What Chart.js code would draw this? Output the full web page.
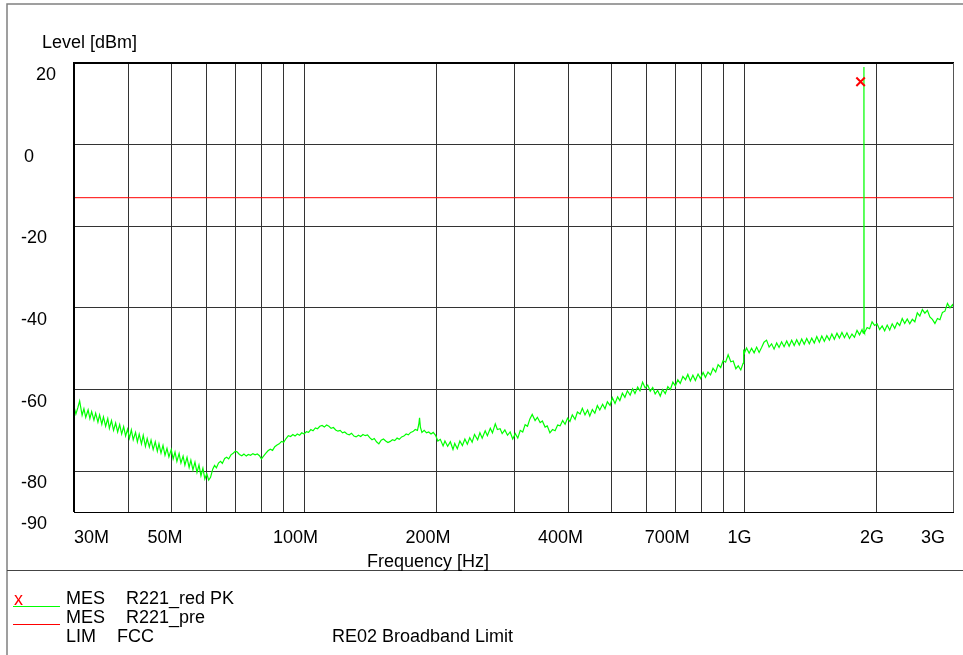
<!DOCTYPE html>
<html>
<head>
<meta charset="utf-8">
<style>
  html, body { margin: 0; padding: 0; background: #ffffff; }
  #wrap { width: 963px; height: 655px; position: relative; }
</style>
<script src="https://cdn.jsdelivr.net/npm/chart.js@4.4.1/dist/chart.umd.min.js"></script>
</head>
<body>
<div id="wrap"><canvas id="c" width="963" height="655"></canvas></div>
<script>
// ---------- data (frequencies in MHz, levels in dBm) ----------
const traceFreqMHz = [
  30, 30.3, 30.6, 30.9, 31.3, 31.6, 31.9, 32.3, 32.6, 32.9,
  33.3, 33.6, 34, 34.3, 34.7, 35, 35.4, 35.8, 36.1, 36.5,
  36.9, 37.3, 37.7, 38.1, 38.5, 38.9, 39.3, 39.7, 40.1, 40.5,
  40.9, 41.4, 41.8, 42.2, 42.7, 43.1, 43.6, 44, 44.5, 44.9,
  45.4, 45.9, 46.4, 46.8, 47.3, 47.8, 48.3, 48.8, 49.3, 49.9,
  50.4, 50.9, 51.4, 52, 52.5, 53.1, 53.6, 54.2, 54.8, 55.3,
  55.9, 56.5, 57.1, 57.7, 58.3, 58.9, 59.5, 60.1, 60.7,
  61.3, 62, 62.6, 63.2, 63.9, 64.6, 65.2, 66, 66.7, 67.4,
  68.2, 69, 69.8, 70.5, 71.3, 72.2, 73, 73.9, 74.7, 75.6,
  76.5, 77.4, 78.3, 79.2, 80, 80.9, 81.9, 82.8, 83.8, 84.8,
  85.8, 86.8, 87.8, 88.9, 89.9, 91, 92.1, 93.2, 94.3, 95.4,
  96.5, 97.7, 98.8, 100, 101.2, 102.4, 103.6, 104.8, 106.1, 107.3,
  108.6, 109.9, 111.2, 112.5, 113.9, 115.2, 116.6, 118, 119.4, 120.8,
  122.3, 123.7, 125.2, 126.7, 128.2, 129.8, 131.3, 132.9, 134.5, 136.1,
  137.7, 139.4, 141, 142.7, 144.4, 146.1, 147.9, 149.7, 151.5, 153.3,
  155.1, 157, 158.8, 160.7, 162.7, 164.6, 166.6, 168.6, 170.6, 172.6,
  174.7, 176.8, 178.9, 181, 182.3, 183, 183.8, 185.3, 187.5, 189.8,
  192, 194.3, 196.6, 199, 201.4,
  204, 207, 209, 212, 215, 218, 220, 223, 226, 229,
  232, 235, 238, 241, 244, 248, 251, 254, 258, 261,
  265, 268, 272, 275, 279, 282, 286, 290, 294, 298,
  302, 306, 310, 314, 318, 322, 326, 330, 335, 339,
  344, 348, 353, 357, 362, 367, 372, 377, 382, 387,
  392, 397, 402, 407, 413, 418, 424, 429, 435, 441,
  446, 452, 458, 464, 470, 477, 483, 489, 496, 502,
  509, 516, 522, 529, 536, 543, 551, 558, 565, 573,
  580, 588, 596, 604, 612, 620, 628, 636, 645, 653,
  662, 671, 680, 689, 698, 707, 716, 726, 736, 745,
  755, 765, 775, 786, 796, 807, 817, 828, 839, 850,
  862, 873, 885, 896, 908, 920, 933, 945, 958, 970,
  983, 995, 998,
  1000, 1013, 1027, 1040, 1054, 1068, 1082, 1096, 1110, 1125,
  1140, 1155, 1170, 1186, 1201, 1217, 1233, 1250, 1266, 1283,
  1300, 1317, 1335, 1352, 1370, 1388, 1407, 1425, 1444, 1463,
  1483, 1502, 1522, 1542, 1563, 1583, 1604, 1626, 1647, 1669,
  1691, 1713, 1736, 1759, 1782, 1806, 1830, 1854, 1866, 1872,
  1873, 1874, 1879, 1904, 1929, 1954, 1980, 2006, 2033, 2060,
  2087, 2115, 2143, 2171, 2200, 2229, 2258, 2288, 2318, 2349,
  2380, 2412, 2444, 2476, 2509, 2542, 2576, 2610, 2644, 2679,
  2715, 2751, 2787, 2824, 2861, 2899, 2938, 2977, 3000
];
const traceLevelDbm = [
  -64.2, -66.0, -64.5, -62.8, -66.3, -64.7, -66.8, -65.0, -67.1, -65.4,
  -67.5, -65.8, -68.0, -66.2, -68.5, -66.7, -69.0, -67.1, -69.5, -67.6,
  -70.0, -68.2, -70.4, -68.6, -70.9, -69.1, -71.4, -69.7, -71.9, -69.9,
  -72.3, -70.5, -72.8, -70.9, -73.3, -71.2, -73.9, -72.0, -74.1, -72.4,
  -74.7, -72.8, -75.1, -73.3, -75.6, -73.7, -76.1, -74.4, -76.5, -74.7,
  -77.0, -75.3, -77.6, -75.7, -78.0, -76.3, -78.5, -76.6, -79.1, -77.3,
  -79.7, -77.8, -80.3, -78.5, -81.1, -79.3, -81.9, -80.6, -82.2,
  -81.5, -79.5, -78.6, -79.2, -78.0, -77.6, -78.1, -76.9, -76.6, -77.0,
  -76.0, -75.6, -75.1, -75.3, -75.9, -76.2, -75.8, -76.3, -75.9, -76.1,
  -75.7, -76.0, -75.8, -76.2, -77.0, -76.3, -75.6, -75.0, -74.6, -74.9,
  -74.0, -73.6, -73.3, -72.7, -72.9, -72.0, -71.3, -71.5, -71.0, -71.4,
  -70.9, -71.2, -70.6, -70.9, -70.3, -70.5, -69.8, -70.1, -69.4, -69.6,
  -69.0, -68.8, -69.2, -68.7, -69.0, -69.5, -69.3, -69.9, -70.2, -70.0,
  -70.6, -70.4, -70.9, -71.1, -70.7, -71.4, -71.6, -71.2, -71.5, -71.0,
  -71.3, -71.1, -71.8, -72.3, -72.0, -72.8, -73.3, -72.4, -72.1, -72.6,
  -73.0, -72.7, -72.3, -72.5, -71.9, -72.2, -71.6, -71.4, -70.9, -71.1,
  -70.5, -70.3, -69.8, -70.0, -68.5, -66.9, -69.2, -70.5, -70.0, -70.6,
  -70.4, -70.9, -70.5, -71.2, -72.6,
  -72.2, -73.8, -72.6, -73.9, -72.8, -74.7, -73.2, -74.5, -72.6, -73.7,
  -72.1, -73.4, -71.8, -72.9, -71.0, -72.3, -70.6, -71.9, -70.1, -71.3,
  -69.5, -70.6, -68.4, -69.8, -69.6, -70.8, -69.9, -71.2, -70.4, -72.1,
  -70.8, -71.9, -70.0, -70.4, -68.6, -69.0, -67.2, -66.1, -67.6, -66.8,
  -68.1, -67.7, -69.2, -68.9, -70.6, -69.8, -70.1, -68.7, -68.9, -67.6,
  -68.5, -67.0, -67.8, -66.2, -67.3, -65.5, -66.0, -64.6, -66.2, -65.0,
  -66.5, -64.9, -65.8, -63.9, -65.0, -63.6, -64.7, -63.0, -63.9, -62.0,
  -63.4, -61.8, -62.7, -60.9, -61.9, -60.3, -61.4, -59.8, -61.0, -59.4,
  -60.3, -58.2, -59.6, -58.9, -60.4, -59.5, -61.1, -60.2, -61.6, -60.0,
  -61.0, -59.3, -60.0, -58.2, -59.1, -57.6, -58.5, -56.8, -57.6, -56.3,
  -57.9, -56.5, -57.8, -56.2, -57.3, -55.8, -57.0, -55.7, -56.4, -54.8,
  -55.7, -53.9, -54.6, -52.9, -53.3, -51.5, -53.2, -53.0, -54.9, -54.2,
  -55.2, -53.6, -50.2,
  -51.3, -49.8, -51.1, -49.9, -51.0, -49.6, -50.9, -49.7, -48.4, -47.9,
  -49.6, -48.8, -50.1, -48.6, -49.7, -48.3, -49.5, -48.1, -49.4, -47.9,
  -49.2, -47.8, -49.1, -47.6, -48.9, -47.5, -48.8, -47.4, -48.6, -47.0,
  -48.4, -46.9, -48.2, -46.8, -47.9, -46.4, -47.7, -46.2, -47.4, -46.0,
  -47.3, -46.1, -47.5, -46.4, -47.2, -45.5, -46.6, -45.3, -46.2, -45.8,
  19.0, -45.6, -46.0, -44.8, -45.1, -43.4, -44.3, -43.9, -45.3, -44.4,
  -45.6, -44.2, -45.4, -43.9, -45.0, -43.6, -44.3, -42.6, -43.8, -42.7,
  -43.9, -42.8, -43.4, -41.2, -42.0, -40.4, -41.3, -40.6, -42.2, -42.8,
  -43.8, -42.6, -42.9, -41.1, -40.8, -38.9, -40.0, -39.2, -40.1
];
const limitFreqMHz = [30, 3000];
const limitLevelDbm = [-13, -13];
const peakFreqMHz = [1840];
const peakLevelDbm = [15.4];

const xGridValues = [40, 50, 60, 70, 80, 90, 100, 200, 300, 400, 500, 600, 700, 800, 900, 1000, 2000];
const yGridValues = [0, -20, -40, -60, -80];
const xTickValues = [30, 50, 100, 200, 400, 700, 1000, 2000, 3000];
const xTickLabels = ['30M', '50M', '100M', '200M', '400M', '700M', '1G', '2G', '3G'];
const yTickValues = [20, 0, -20, -40, -60, -80, -90];
const yTickLabels = ['20', '0', '-20', '-40', '-60', '-80', '-90'];

const yAxisTitle = 'Level [dBm]';
const xAxisTitle = 'Frequency [Hz]';
const legendRows = [
  ['MES', 'R221_red PK', ''],
  ['MES', 'R221_pre', ''],
  ['LIM', 'FCC', 'RE02 Broadband Limit']
];

// ---------- build ----------
const nTrace = Math.min(traceFreqMHz.length, traceLevelDbm.length);
const tracePts = [];
for (let i = 0; i < nTrace; i++) tracePts.push({ x: traceFreqMHz[i], y: traceLevelDbm[i] });
const limitPts = limitFreqMHz.map((f, i) => ({ x: f, y: limitLevelDbm[i] }));
const peakPts = peakFreqMHz.map((f, i) => ({ x: f, y: peakLevelDbm[i] }));

const FONT = '18px "Liberation Sans", Arial, Helvetica, sans-serif';

const decorPlugin = {
  id: 'decor',
  afterDraw(chart) {
    const ctx = chart.ctx;
    const a = chart.chartArea;
    const xs = chart.scales.x, ys = chart.scales.y;
    ctx.save();
    // outer frame
    ctx.strokeStyle = '#808080';
    ctx.lineWidth = 1.5;
    ctx.beginPath();
    ctx.moveTo(7, 655); ctx.lineTo(7, 4); ctx.lineTo(963, 4);
    ctx.stroke();
    ctx.strokeStyle = '#444';
    ctx.lineWidth = 1;
    ctx.beginPath();
    ctx.moveTo(7, 570.5); ctx.lineTo(963, 570.5);
    ctx.stroke();

    // plot frame
    ctx.strokeStyle = '#000';
    ctx.lineWidth = 2;
    ctx.beginPath();
    ctx.moveTo(a.left, a.bottom); ctx.lineTo(a.left, a.top); ctx.lineTo(a.right, a.top);
    ctx.stroke();
    ctx.lineWidth = 1;
    ctx.strokeStyle = '#555';
    ctx.beginPath();
    ctx.moveTo(Math.round(a.right) - 0.5, a.top); ctx.lineTo(Math.round(a.right) - 0.5, a.bottom);
    ctx.stroke();
    ctx.strokeStyle = '#000';
    ctx.beginPath();
    ctx.moveTo(a.left, Math.round(a.bottom) + 0.5); ctx.lineTo(a.right, Math.round(a.bottom) + 0.5);
    ctx.stroke();

    // texts
    ctx.font = FONT;
    ctx.fillStyle = '#000';
    ctx.textBaseline = 'middle';
    ctx.textAlign = 'left';
    ctx.fillText(yAxisTitle, 42, 43);

    yTickValues.forEach((v, i) => {
      const y = ys.getPixelForValue(v) + 12;
      const x = v < 0 ? 21 : (v === 0 ? 24 : 36);
      ctx.fillText(yTickLabels[i], x, y);
    });

    xTickValues.forEach((v, i) => {
      const t = xTickLabels[i];
      const w = ctx.measureText(t).width;
      let left = xs.getPixelForValue(v) - 0.19 * w - w / 2;
      if (left < a.left) left = a.left;
      if (left + w > a.right - 9) left = a.right - 9 - w;
      ctx.fillText(t, left, 538);
    });
    ctx.fillText(xAxisTitle, 367, 562);

    // legend block
    const rowY = [599, 618, 637];
    ctx.fillStyle = '#ff0000';
    ctx.fillText('x', 14, rowY[0] + 1);
    ctx.lineWidth = 1;
    ctx.strokeStyle = '#00ff00';
    ctx.beginPath(); ctx.moveTo(13, 606.5); ctx.lineTo(60, 606.5); ctx.stroke();
    ctx.strokeStyle = '#ff0000';
    ctx.beginPath(); ctx.moveTo(13, 624.5); ctx.lineTo(60, 624.5); ctx.stroke();
    ctx.fillStyle = '#000';
    legendRows.forEach((r, i) => {
      ctx.fillText(r[0], 66, rowY[i]);
      ctx.fillText(r[1], i === 2 ? 117 : 126, rowY[i]);
      if (r[2]) ctx.fillText(r[2], 332, rowY[i]);
    });
    ctx.restore();
  }
};

new Chart(document.getElementById('c').getContext('2d'), {
  type: 'line',
  data: {
    datasets: [
      { label: 'peak', data: peakPts, showLine: false, pointStyle: 'crossRot', pointRadius: 6,
        borderColor: '#ff0000', backgroundColor: '#ff0000', borderWidth: 2 },
      { label: 'R221_red PK', data: tracePts, borderColor: '#00ff00', borderWidth: 1.2,
        pointRadius: 0, tension: 0, fill: false },
      { label: 'FCC', data: limitPts, borderColor: '#ff0000', borderWidth: 1,
        pointRadius: 0, tension: 0, fill: false }
    ]
  },
  options: {
    responsive: false,
    animation: false,
    events: [],
    layout: { padding: { left: 74, top: 63, right: 9, bottom: 143 } },
    plugins: { legend: { display: false }, tooltip: { enabled: false } },
    scales: {
      x: {
        type: 'logarithmic', min: 30, max: 3000,
        afterBuildTicks: s => { s.ticks = xGridValues.map(v => ({ value: v })); },
        afterFit: s => { s.height = 0; },
        ticks: { display: false },
        grid: { color: '#333', lineWidth: 1, drawTicks: false },
        border: { display: false }
      },
      y: {
        type: 'linear', min: -90, max: 20,
        afterBuildTicks: s => { s.ticks = yGridValues.map(v => ({ value: v })); },
        afterFit: s => { s.width = 0; },
        ticks: { display: false },
        grid: { color: '#333', lineWidth: 1, drawTicks: false },
        border: { display: false }
      }
    }
  },
  plugins: [decorPlugin]
});
</script>
</body>
</html>
